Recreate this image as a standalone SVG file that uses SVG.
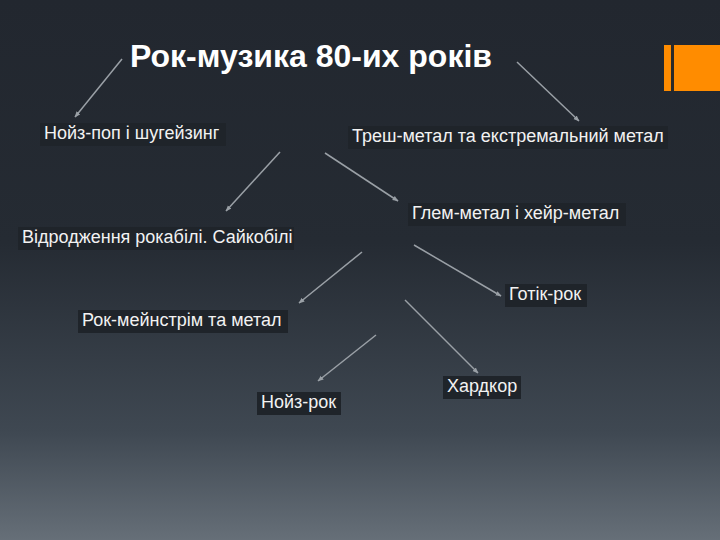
<svg xmlns="http://www.w3.org/2000/svg" width="720" height="540" viewBox="0 0 720 540">
<defs>
<linearGradient id="bg" x1="0" y1="0" x2="0" y2="1">
<stop offset="0" stop-color="#22272f"/>
<stop offset="0.45" stop-color="#252b33"/>
<stop offset="0.8" stop-color="#3f4852"/>
<stop offset="1" stop-color="#666f78"/>
</linearGradient>
<marker id="ah" viewBox="0 0 10 10" refX="9" refY="5" markerWidth="6" markerHeight="6" orient="auto" markerUnits="userSpaceOnUse">
<path d="M0,1 L10,5 L0,9 z" fill="#9aa0a6"/>
</marker>
</defs>
<style>
.t{font-family:"Liberation Sans",Arial,sans-serif;font-size:18px;fill:#f2f2f2}
.title{font-family:"Liberation Sans",Arial,sans-serif;font-size:32px;font-weight:bold;fill:#ffffff}
.box{fill:#1f242a}
.c line{stroke:#9aa0a6;stroke-width:1.5;marker-end:url(#ah)}
</style>
<rect width="720" height="540" fill="url(#bg)"/>
<g id="accent">
<rect x="664" y="45" width="56" height="46" fill="#ff8c00"/>
<rect x="671" y="45" width="3" height="46" fill="#2a2a2a"/>
</g>
<g id="title"><text class="title" x="130" y="67">Рок-музика 80-их років</text></g>
<g id="n1"><rect class="box" x="40" y="123" width="186" height="23"/><text class="t" x="44" y="139">Нойз-поп і шугейзинг</text></g>
<g id="n2"><rect class="box" x="348" y="126" width="320" height="23"/><text class="t" x="352" y="142">Треш-метал та екстремальний метал</text></g>
<g id="n3"><rect class="box" x="408" y="203" width="218" height="23"/><text class="t" x="412" y="219">Глем-метал і хейр-метал</text></g>
<g id="n4"><rect class="box" x="18" y="227" width="276" height="23"/><text class="t" x="22" y="243">Відродження рокабілі. Сайкобілі</text></g>
<g id="n5"><rect class="box" x="505" y="284" width="82" height="23"/><text class="t" x="509" y="300">Готік-рок</text></g>
<g id="n6"><rect class="box" x="78" y="310" width="210" height="23"/><text class="t" x="82" y="326">Рок-мейнстрім та метал</text></g>
<g id="n7"><rect class="box" x="257" y="392" width="84" height="23"/><text class="t" x="261" y="408">Нойз-рок</text></g>
<g id="n8"><rect class="box" x="443" y="376" width="78" height="23"/><text class="t" x="447" y="392">Хардкор</text></g>
<g id="connectors" class="c">
<line x1="122" y1="59" x2="75" y2="117"/>
<line x1="517" y1="62" x2="579" y2="121"/>
<line x1="280" y1="152" x2="226" y2="211"/>
<line x1="325" y1="153" x2="398" y2="201"/>
<line x1="362" y1="252" x2="299" y2="303"/>
<line x1="414" y1="245" x2="501" y2="296"/>
<line x1="405" y1="300" x2="478" y2="373"/>
<line x1="376" y1="335" x2="318" y2="381"/>
</g>
</svg>
